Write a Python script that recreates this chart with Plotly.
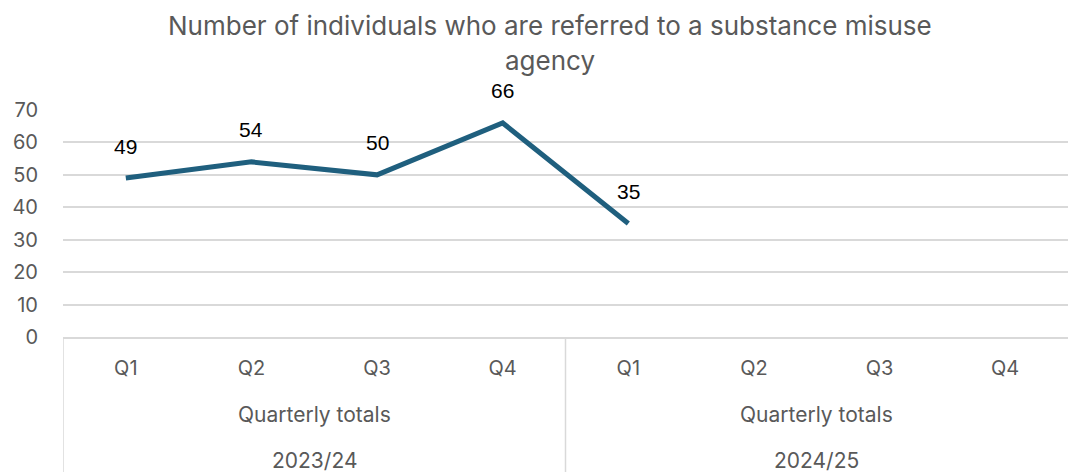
import plotly.graph_objects as go

# Quarterly referral counts
quarters = ["Q1", "Q2", "Q3", "Q4", "Q1", "Q2", "Q3", "Q4"]
group_label = "Quarterly totals"
years = ["2023/24", "2024/25"]
referrals = [49, 54, 50, 66, 35]

title_lines = ["Number of individuals who are referred to a substance misuse", "agency"]

LINE_COLOR = "#1F5F7E"
GRID = "#D9D9D9"
TEXT_GREY = "#595959"
AXIS_FONT = "Inter"

x_pos = list(range(len(quarters)))

fig = go.Figure()
fig.add_trace(go.Scatter(
    x=x_pos[:len(referrals)],
    y=referrals,
    mode="lines",
    line=dict(color=LINE_COLOR, width=5),
    hoverinfo="skip",
    showlegend=False,
))

annotations = []
# value labels above each point
for xi, v in zip(x_pos, referrals):
    annotations.append(dict(
        x=xi, y=v, xref="x", yref="y", text=str(v), showarrow=False,
        yshift=32, yanchor="middle",
        font=dict(family="Liberation Sans", size=21, color="#000000"),
    ))

# second and third category levels
per_year = len(quarters) // len(years)
for i, yr in enumerate(years):
    centre = i * per_year + (per_year - 1) / 2
    annotations.append(dict(
        x=centre, y=0, xref="x", yref="paper", text=group_label, showarrow=False,
        yshift=-77, yanchor="middle",
        font=dict(family=AXIS_FONT, size=21, color=TEXT_GREY),
    ))
    annotations.append(dict(
        x=centre, y=0, xref="x", yref="paper", text=yr, showarrow=False,
        yshift=-123, yanchor="middle",
        font=dict(family=AXIS_FONT, size=21, color=TEXT_GREY),
    ))

# title, two lines
title_y = [447, 412]
for txt, ypx in zip(title_lines, title_y):
    annotations.append(dict(
        x=(550 - 63) / 1005, y=(ypx - 135) / 227, xref="paper", yref="paper",
        text=txt, showarrow=False, yanchor="middle", xanchor="center",
        font=dict(family=AXIS_FONT, size=26, color=TEXT_GREY),
    ))

# category dividers below the axis
shapes = []
for i in range(len(years)):
    xb = i * per_year - 0.5
    shapes.append(dict(
        type="line", xref="x", yref="paper", x0=xb, x1=xb, y0=0, y1=-0.62,
        line=dict(color=GRID, width=1.5),
    ))

fig.update_layout(
    width=1068, height=472,
    margin=dict(l=63, r=0, t=110, b=135),
    paper_bgcolor="white", plot_bgcolor="white",
    showlegend=False,
    annotations=annotations,
    shapes=shapes,
    xaxis=dict(
        range=[-0.5, len(quarters) - 0.5],
        tickmode="array", tickvals=x_pos, ticktext=quarters,
        showgrid=False, zeroline=False,
        showline=True, linecolor=GRID, linewidth=1.5,
        ticks="outside", ticklen=12, tickcolor="rgba(0,0,0,0)",
        tickfont=dict(family=AXIS_FONT, size=20, color=TEXT_GREY),
        fixedrange=True,
    ),
    yaxis=dict(
        range=[0, 70], dtick=10, tick0=0,
        showgrid=True, gridcolor=GRID, gridwidth=1.5,
        zeroline=False, showline=False,
        ticks="outside", ticklen=20, tickcolor="rgba(0,0,0,0)",
        tickfont=dict(family=AXIS_FONT, size=20, color=TEXT_GREY),
        fixedrange=True,
    ),
)

fig.write_html("out.html")
